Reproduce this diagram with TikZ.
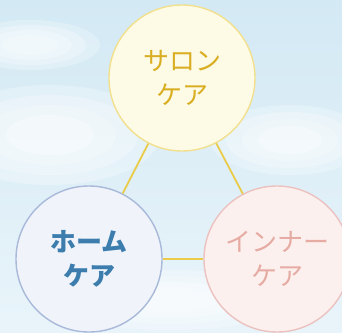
\documentclass[tikz,border=0pt]{standalone}
\usepackage{fontspec}
\newfontfamily\jp{Noto Sans CJK JP}
\definecolor{sky}{HTML}{D3E9F4}
\definecolor{skylight}{HTML}{E9F4FA}
\definecolor{linkc}{HTML}{EACB4A}
\definecolor{topfill}{HTML}{FDFBE6}
\definecolor{topdraw}{HTML}{F2E08E}
\definecolor{toptext}{HTML}{D9AE22}
\definecolor{leftfill}{HTML}{F0F4FA}
\definecolor{leftdraw}{HTML}{A9B9D9}
\definecolor{lefttext}{HTML}{3C7DAE}
\definecolor{rightfill}{HTML}{FCF0EE}
\definecolor{rightdraw}{HTML}{EBC2C0}
\definecolor{righttext}{HTML}{E6ABA3}
\begin{document}
\begin{tikzpicture}[x=1pt,y=1pt,
  carebox/.style={circle, minimum size=146pt, inner sep=0pt, line width=1.4pt,
    align=center, font=\jp\fontsize{26}{34}\selectfont},
  cloud/.style={white, opacity=0.25},
  link/.style={draw=linkc, line width=1.8pt}]
\useasboundingbox (0,0) rectangle (342,-332);
\shade[top color=sky, bottom color=skylight] (0,0) rectangle (342,-332);
\foreach \s in {1,0.8,0.6,0.4}{
  \fill[cloud] (50,-135) ellipse ({110*\s} and {50*\s});
  \fill[cloud] (290,-140) ellipse ({80*\s} and {35*\s});
  \fill[cloud] (30,-45) ellipse ({70*\s} and {25*\s});
  \fill[cloud] (170,-300) ellipse ({120*\s} and {30*\s});
}
\node[carebox, draw=topdraw, fill=topfill, text=toptext] (salon) at (182,-78) {サロン\\ケア};
\node[carebox, draw=leftdraw, fill=leftfill, text=lefttext] (home) at (89,-259) {\textbf{ホーム}\\\textbf{ケア}};
\node[carebox, draw=rightdraw, fill=rightfill, text=righttext] (inner) at (277,-259) {インナー\\ケア};
\draw[link] (salon) -- (home);
\draw[link] (salon) -- (inner);
\draw[link] (home) -- (inner);
\end{tikzpicture}
\end{document}
